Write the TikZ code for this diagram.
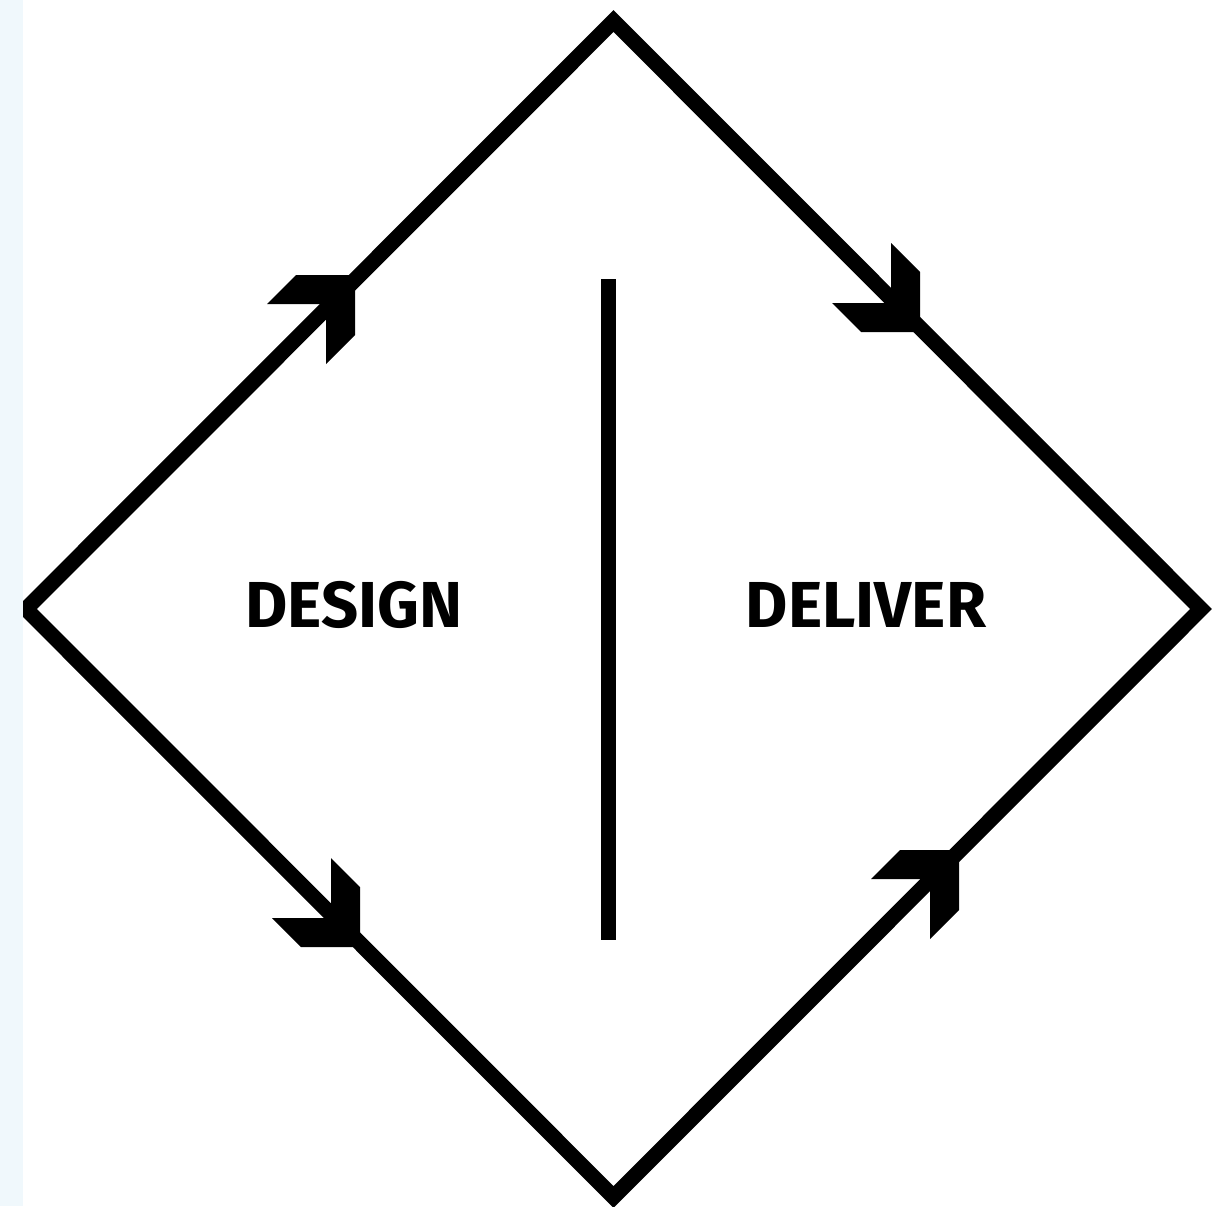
\documentclass[tikz,border=0pt]{standalone}
\usepackage{fontspec}
\setmainfont{Fira Sans}
\usepackage{tikz}

\definecolor{stripblue}{RGB}{240,248,252}

\tikzset{
    chevron/.pic={
        \fill (0,0) -- (-59,0) -- (-88,29) -- (-29,29) -- (-29,89) -- (0,60) -- cycle;
    }
}

\begin{document}
\begin{tikzpicture}[
    x=0.02cm, y=-0.02cm,
    edge/.style={draw, line width=0.31cm, line join=miter},
    split/.style={draw, line width=0.3cm, line cap=butt},
    phase/.style={anchor=base, inner sep=0pt, font=\fontsize{37}{40}\selectfont\bfseries}
    ]
    \useasboundingbox (0,0) rectangle (1216,1206);

    \coordinate (top) at (613.5,21);
    \coordinate (right) at (1201,609);
    \coordinate (bottom) at (613.5,1197);
    \coordinate (left) at (26,609);

    \draw[edge] (top) -- (right) -- (bottom) -- (left) -- cycle;

    % arrow marks on the four sides
    \pic at (355,275) {chevron};
    \pic[yscale=-1] at (920,332) {chevron};
    \pic[yscale=-1] at (360,947) {chevron};
    \pic at (959,850) {chevron};

    \coordinate (splittop) at (608.5,279);
    \coordinate (splitbottom) at (608.5,940);
    \draw[split] (splittop) -- (splitbottom);

    \node[phase] (design) at (354,627) {DESIGN};
    \node[phase] (deliver) at (866,627) {DELIVER};

    \fill[stripblue] (0,0) rectangle (23,1206);
\end{tikzpicture}
\end{document}
